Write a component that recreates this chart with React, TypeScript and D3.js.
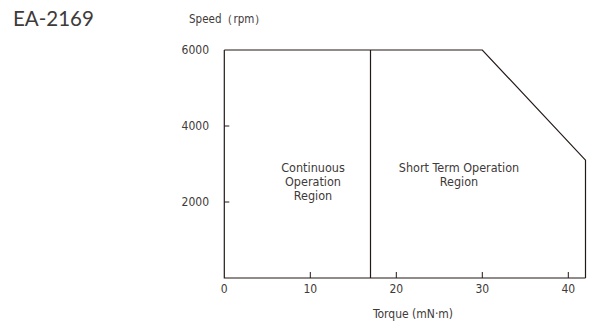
import React from "react";
import * as d3 from "d3";

// torque (mN·m) vs speed (rpm)
const torqueTicks = [10, 20, 30, 40];
const speedTicks = [2000, 4000, 6000];
const envelopeTorque = [0, 30, 42, 42];
const envelopeSpeed = [6000, 6000, 3100, 0];
const continuousLimit = 17;
const modelName = "EA-2169";

const W = 594;
const H = 325;
const narrow = "'Liberation Sans Narrow', 'DejaVu Sans Condensed', sans-serif";
const ink = "#231815";
const textCol = "#3e3a39";

export default function App() {
  const x = d3.scaleLinear().domain([0, 42]).range([224.3, 585.5]);
  const y = d3.scaleLinear().domain([0, 6000]).range([278, 50]);

  const envelope = d3
    .line<number>()
    .x((d) => x(envelopeTorque[d]))
    .y((d) => y(envelopeSpeed[d]));

  const idx = envelopeTorque.map((_, i) => i);

  return (
    <svg
      width={W}
      height={H}
      style={{ position: "absolute", left: 0, top: 0, background: "#fff" }}
    >
      <text x={13} y={26} fontSize={20.5} fontFamily="Lato, 'Open Sans', sans-serif" fill={textCol}>
        {modelName}
      </text>
      <text x={189} y={23} fontSize={11.5} fontFamily={narrow} fill={textCol}>
        Speed（rpm）
      </text>

      {/* axes */}
      <path
        d={`M${x(0)},${y(6000)}V${y(0)}H${x(42)}`}
        fill="none"
        stroke={ink}
        strokeWidth={1.2}
      />
      <path d={envelope(idx) || ""} fill="none" stroke={ink} strokeWidth={1.2} />
      <line
        x1={x(continuousLimit)}
        x2={x(continuousLimit)}
        y1={y(6000)}
        y2={y(0)}
        stroke={ink}
        strokeWidth={1.2}
      />

      {torqueTicks.map((t) => (
        <line key={t} x1={x(t)} x2={x(t)} y1={y(0)} y2={y(0) - 6} stroke={ink} strokeWidth={1} />
      ))}
      {speedTicks
        .filter((s) => s < 6000)
        .map((s) => (
          <line key={s} x1={x(0)} x2={x(0) + 5} y1={y(s)} y2={y(s)} stroke={ink} strokeWidth={1} />
        ))}

      {[0, ...torqueTicks].map((t) => (
        <text
          key={t}
          x={x(t)}
          y={293}
          textAnchor="middle"
          fontSize={12}
          fontFamily={narrow}
          fill={textCol}
        >
          {t}
        </text>
      ))}
      {speedTicks.map((s) => (
        <text
          key={s}
          x={209}
          y={y(s) + 4}
          textAnchor="end"
          fontSize={12}
          fontFamily={narrow}
          fill={textCol}
        >
          {s}
        </text>
      ))}
      <text x={413} y={318} textAnchor="middle" fontSize={12} fontFamily={narrow} fill={textCol}>
        Torque (mN·m)
      </text>

      {["Continuous", "Operation", "Region"].map((s, i) => (
        <text
          key={s}
          x={313}
          y={172 + i * 14}
          textAnchor="middle"
          fontSize={12.5}
          fontFamily={narrow}
          fill={textCol}
        >
          {s}
        </text>
      ))}
      {["Short Term Operation", "Region"].map((s, i) => (
        <text
          key={s}
          x={459}
          y={172 + i * 14}
          textAnchor="middle"
          fontSize={12.5}
          fontFamily={narrow}
          fill={textCol}
        >
          {s}
        </text>
      ))}
    </svg>
  );
}
